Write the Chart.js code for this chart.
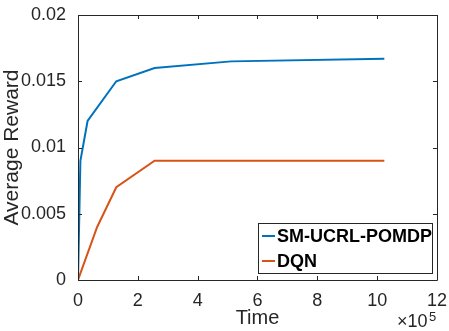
<!DOCTYPE html>
<html>
<head>
<meta charset="utf-8">
<script src="https://cdn.jsdelivr.net/npm/chart.js@4/dist/chart.umd.min.js"></script>
<style>
html,body{margin:0;padding:0;background:#fff;}
#wrap{width:449px;height:331px;position:relative;}
</style>
</head>
<body>
<div id="wrap"><canvas id="c" width="449" height="331"></canvas></div>
<script>
const seriesNames = ["SM-UCRL-POMDP", "DQN"];
const smTime = [0, 8000, 32000, 128000, 256000, 512000, 1024000];
const smReward = [0, 0.009, 0.012, 0.015, 0.016, 0.0165, 0.0167];
const dqnTime = [0, 64000, 128000, 256000, 512000, 1024000];
const dqnReward = [0, 0.004, 0.007, 0.009, 0.009, 0.009];
const xTickValues = [0, 2, 4, 6, 8, 10, 12];
const yTickValues = [0, 0.005, 0.01, 0.015, 0.02];

const AX = '#262626';
const FONT = '"Liberation Sans", Arial, Helvetica, sans-serif';

const frameTicks = {
  id: 'frameTicks',
  afterDraw(chart) {
    const {ctx, chartArea: a, scales: {x, y}} = chart;
    ctx.save();
    ctx.strokeStyle = AX;
    ctx.lineWidth = 1;
    ctx.beginPath();
    ctx.rect(Math.round(a.left) + 0.5, Math.round(a.top) + 0.5, Math.round(a.right - a.left), Math.round(a.bottom - a.top));
    const L = 4;
    x.ticks.forEach(t => {
      const px = Math.round(x.getPixelForValue(t.value)) + 0.5;
      ctx.moveTo(px, a.bottom); ctx.lineTo(px, a.bottom - L);
      ctx.moveTo(px, a.top); ctx.lineTo(px, a.top + L);
    });
    y.ticks.forEach(t => {
      const py = Math.round(y.getPixelForValue(t.value)) + 0.5;
      ctx.moveTo(a.left, py); ctx.lineTo(a.left + L, py);
      ctx.moveTo(a.right, py); ctx.lineTo(a.right - L, py);
    });
    ctx.stroke();
    // exponent label
    ctx.fillStyle = AX;
    ctx.textBaseline = 'alphabetic';
    ctx.textAlign = 'left';
    ctx.font = '18px ' + FONT;
    ctx.fillText('\u00d710', 397, 327);
    ctx.font = '13px ' + FONT;
    ctx.fillText('5', 429, 321);
    // legend
    const bx = 258, by = 223, bw = 174, bh = 50;
    ctx.fillStyle = '#fff';
    ctx.fillRect(bx, by, bw, bh);
    ctx.strokeStyle = AX;
    ctx.strokeRect(bx + 0.5, by + 0.5, bw, bh);
    ctx.font = 'bold 18px ' + FONT;
    ctx.textBaseline = 'middle';
    chart.data.datasets.forEach((ds, i) => {
      const cy = by + 13 + i * 25;
      ctx.strokeStyle = ds.borderColor;
      ctx.lineWidth = 2;
      ctx.beginPath();
      ctx.moveTo(262, cy); ctx.lineTo(275, cy);
      ctx.stroke();
      ctx.fillStyle = '#000';
      ctx.fillText(ds.label, 277, cy + 1);
    });
    ctx.restore();
  }
};

new Chart(document.getElementById('c'), {
  type: 'line',
  data: {
    datasets: [
      {label: seriesNames[0], data: smTime.map((t, i) => ({x: t, y: smReward[i]})), borderColor: '#0072BD', borderWidth: 2, pointRadius: 0, tension: 0, fill: false},
      {label: seriesNames[1], data: dqnTime.map((t, i) => ({x: t, y: dqnReward[i]})), borderColor: '#D95319', borderWidth: 2, pointRadius: 0, tension: 0, fill: false}
    ]
  },
  options: {
    responsive: false,
    animation: false,
    events: [],
    layout: {padding: {top: 15, right: 11, left: 0, bottom: 0}},
    plugins: {legend: {display: false}, tooltip: {enabled: false}},
    scales: {
      x: {
        type: 'linear', min: 0, max: 1200000,
        afterBuildTicks: s => { s.ticks = xTickValues.map(v => ({value: v * 1e5})); },
        afterFit: s => { s.height = 51; },
        grid: {display: false}, border: {display: false},
        ticks: {color: AX, font: {family: FONT, size: 18}, padding: 2, maxRotation: 0, autoSkip: false,
          callback: v => String(Math.round(v / 1e5))},
        title: {display: true, text: 'Time', color: AX, font: {family: FONT, size: 20}, padding: {top: 0, bottom: 1}}
      },
      y: {
        type: 'linear', min: 0, max: 0.02,
        afterBuildTicks: s => { s.ticks = yTickValues.map(v => ({value: v})); },
        afterFit: s => { s.width = 78; },
        grid: {display: false}, border: {display: false},
        ticks: {color: AX, font: {family: FONT, size: 18}, padding: 4, autoSkip: false,
          callback: v => String(+v.toFixed(3))},
        title: {display: true, text: 'Average Reward', color: AX, font: {family: FONT, size: 21}, padding: {top: 0, bottom: 0}}
      }
    }
  },
  plugins: [frameTicks]
});
</script>
</body>
</html>
